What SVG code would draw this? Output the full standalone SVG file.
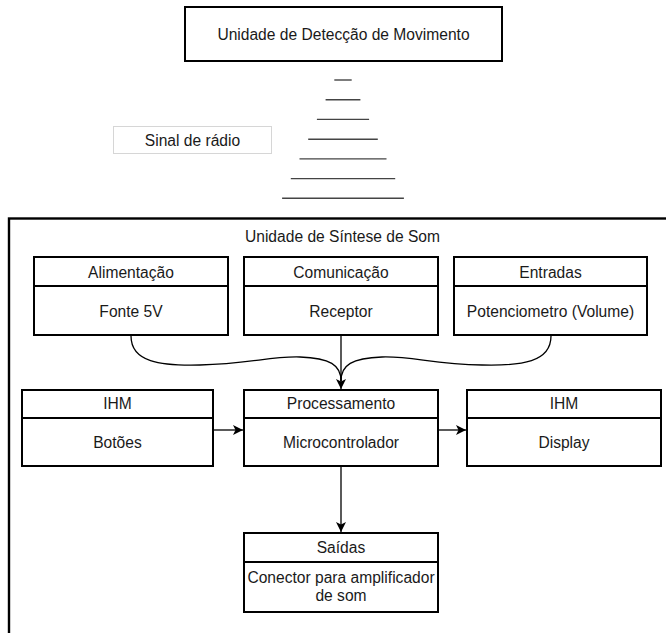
<svg xmlns="http://www.w3.org/2000/svg" width="666" height="633" viewBox="0 0 666 633">
  <style>
    .box { fill: #ffffff; stroke: #000000; stroke-width: 2; }
    .t { font-family: "Liberation Sans", Arial, sans-serif; font-size: 15.6px; fill: #1a1a1a; text-anchor: middle; }
    .edge { fill: none; stroke: #000000; stroke-width: 1.3; }
    .wave { stroke: #444444; stroke-width: 1.4; }
  </style>
  <defs>
    <marker id="arrow" markerUnits="userSpaceOnUse" markerWidth="10" markerHeight="10" viewBox="0 0 10 10" refX="10" refY="5" orient="auto">
      <path d="M0,0 L10,5 L0,10 L2.5,5 Z" fill="#000000"/>
    </marker>
  </defs>
  <rect width="666" height="633" fill="#ffffff"/>

  <g id="detection-unit">
    <rect class="box" x="185" y="7" width="317" height="54"/>
    <text class="t" x="343.5" y="39.5">Unidade de Detecção de Movimento</text>
  </g>

  <g id="radio-waves">
    <line class="wave" x1="334.3" y1="80" x2="351.7" y2="80"/>
    <line class="wave" x1="325.6" y1="99.7" x2="360.4" y2="99.7"/>
    <line class="wave" x1="316.9" y1="119.4" x2="369.1" y2="119.4"/>
    <line class="wave" x1="308.2" y1="139.2" x2="377.8" y2="139.2"/>
    <line class="wave" x1="299.5" y1="158.9" x2="386.5" y2="158.9"/>
    <line class="wave" x1="290.8" y1="178.6" x2="395.2" y2="178.6"/>
    <line class="wave" x1="282.1" y1="198.3" x2="403.9" y2="198.3"/>
  </g>

  <g id="radio-label">
    <rect x="113.5" y="126.5" width="158" height="27" fill="#ffffff" stroke="#d6d6d6" stroke-width="1"/>
    <text class="t" x="192.5" y="145.5">Sinal de rádio</text>
  </g>

  <g id="synthesis-unit">
    <rect x="9" y="218.5" width="700" height="460" fill="none" stroke="#000000" stroke-width="2.4"/>
    <text class="t" x="342.5" y="242">Unidade de Síntese de Som</text>
  </g>

  <g id="alimentacao">
    <rect class="box" x="34" y="257" width="194" height="29"/>
    <rect class="box" x="34" y="286" width="194" height="49"/>
    <text class="t" x="131" y="277.5">Alimentação</text>
    <text class="t" x="131" y="316.5">Fonte 5V</text>
  </g>

  <g id="comunicacao">
    <rect class="box" x="244" y="257" width="194" height="29"/>
    <rect class="box" x="244" y="286" width="194" height="49"/>
    <text class="t" x="341" y="277.5">Comunicação</text>
    <text class="t" x="341" y="316.5">Receptor</text>
  </g>

  <g id="entradas">
    <rect class="box" x="454" y="257" width="193" height="29"/>
    <rect class="box" x="454" y="286" width="193" height="49"/>
    <text class="t" x="550.5" y="277.5">Entradas</text>
    <text class="t" x="550.5" y="316.5">Potenciometro (Volume)</text>
  </g>

  <g id="ihm-botoes">
    <rect class="box" x="22" y="390" width="191" height="28"/>
    <rect class="box" x="22" y="418" width="191" height="48"/>
    <text class="t" x="117.5" y="409">IHM</text>
    <text class="t" x="117.5" y="447.5">Botões</text>
  </g>

  <g id="processamento">
    <rect class="box" x="244" y="390" width="194" height="28"/>
    <rect class="box" x="244" y="418" width="194" height="48"/>
    <text class="t" x="341" y="409">Processamento</text>
    <text class="t" x="341" y="447.5">Microcontrolador</text>
  </g>

  <g id="ihm-display">
    <rect class="box" x="467" y="390" width="194" height="28"/>
    <rect class="box" x="467" y="418" width="194" height="48"/>
    <text class="t" x="564" y="409">IHM</text>
    <text class="t" x="564" y="447.5">Display</text>
  </g>

  <g id="saidas">
    <rect class="box" x="244" y="533" width="194" height="29"/>
    <rect class="box" x="244" y="562" width="194" height="50"/>
    <text class="t" x="341" y="553">Saídas</text>
    <text class="t" x="341" y="582.5">Conector para amplificador</text>
    <text class="t" x="341" y="600.5">de som</text>
  </g>

  <g id="connectors">
    <path class="edge" d="M131,336 C131,362 160,366 200,365 C250,364 270,356 300,357 C330,358 341,365 341,381"/>
    <path class="edge" d="M551,336 C551,362 522,366 482,365 C432,364 412,356 382,357 C352,358 341,365 341,381"/>
    <path class="edge" d="M341,336 L341,389" marker-end="url(#arrow)"/>
    <path class="edge" d="M214,430 L243,430" marker-end="url(#arrow)"/>
    <path class="edge" d="M439,430 L466,430" marker-end="url(#arrow)"/>
    <path class="edge" d="M341,467 L341,532" marker-end="url(#arrow)"/>
  </g>
</svg>
